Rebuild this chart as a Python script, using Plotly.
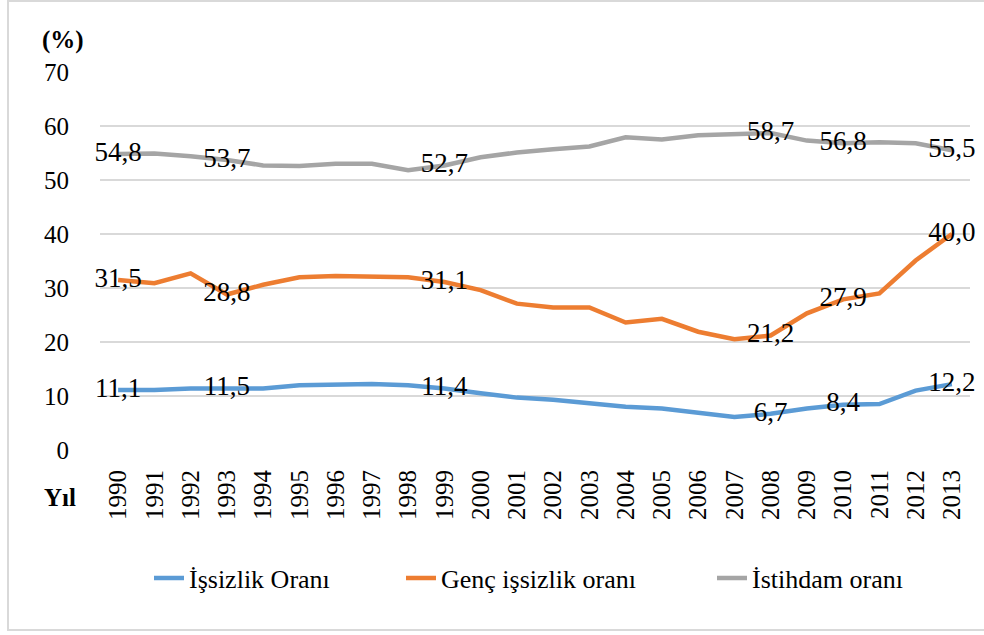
import plotly.graph_objects as go

years = [str(y) for y in range(1990, 2014)]
issizlik = [11.1, 11.1, 11.4, 11.5, 11.4, 12.0, 12.2, 12.2, 12.0, 11.4, 10.5, 9.7,
            9.3, 8.7, 8.0, 7.7, 6.9, 6.1, 6.7, 7.7, 8.4, 8.5, 11.0, 12.2]
genc = [31.5, 30.9, 32.7, 28.8, 30.6, 32.0, 32.2, 32.0, 32.0, 31.1, 29.6, 27.1,
        26.4, 26.4, 23.6, 24.3, 21.9, 20.5, 21.2, 25.3, 27.9, 29.0, 35.1, 40.0]
istihdam = [54.8, 54.9, 54.4, 53.7, 52.7, 52.6, 53.0, 53.0, 51.8, 52.7, 54.2, 55.1,
            55.7, 56.2, 57.9, 57.5, 58.3, 58.6, 58.7, 57.3, 56.8, 57.0, 56.8, 55.5]
label_years = ["1990", "1993", "1999", "2008", "2010", "2013"]
series = [
    ("İşsizlik Oranı", issizlik, "#5B9BD5", "legend", 189),
    ("Genç işsizlik oranı", genc, "#ED7D31", "legend2", 441),
    ("İstihdam oranı", istihdam, "#A5A5A5", "legend3", 752),
]

FONT = "Liberation Serif, Times New Roman, serif"
L, R, T, B = 100, 14, 72, 185
PW, PH = 984 - L - R, 635 - T - B

fig = go.Figure()
legends = {}
for name, vals, color, leg, text_x in series:
    txt = [f"{v:.1f}".replace(".", ",") if y in label_years else "" for y, v in zip(years, vals)]
    fig.add_trace(go.Scatter(
        x=years, y=vals, name=name, mode="lines+text", legend=leg,
        line=dict(color=color, width=4.5), cliponaxis=False,
        text=txt, textposition="middle center",
        textfont=dict(family=FONT, size=27, color="#000000"),
    ))
    legends[leg] = dict(orientation="h", x=(text_x - 40 - L) / PW, xanchor="left",
                        y=(T + PH - 578) / PH, yanchor="middle", bgcolor="rgba(0,0,0,0)",
                        font=dict(family=FONT, size=26, color="#000000"))

fig.update_layout(
    width=984, height=635,
    margin=dict(l=L, r=R, t=T, b=B),
    paper_bgcolor="white", plot_bgcolor="white",
    font=dict(family=FONT, size=24, color="#000000"),
    showlegend=True,
    xaxis=dict(type="category", range=[-0.5, 23.5], autorange=False, tickangle=-90,
               showgrid=False, zeroline=False, showline=False, ticks="", ticklabelstandoff=14,
               tickfont=dict(family=FONT, size=25)),
    yaxis=dict(range=[0, 70], autorange=False, dtick=10, showgrid=True, gridcolor="#D9D9D9",
               gridwidth=2, zeroline=False, showline=False, ticks="", ticklabelstandoff=30,
               tickfont=dict(family=FONT, size=25)),
    shapes=[dict(type="rect", xref="paper", yref="paper",
                 x0=(8 - L) / PW, x1=1.05, y0=(T + PH - 630) / PH, y1=(T + PH - 1) / PH,
                 line=dict(color="#D9D9D9", width=2), fillcolor="rgba(0,0,0,0)", layer="below")],
    annotations=[
        dict(text="<b>(%)</b>", xref="paper", yref="paper", x=(40 - L) / PW, y=(T + PH - 40) / PH,
             xanchor="left", yanchor="middle", showarrow=False, font=dict(family=FONT, size=25)),
        dict(text="<b>Yıl</b>", xref="paper", yref="paper", x=(42 - L) / PW, y=(T + PH - 497) / PH,
             xanchor="left", yanchor="middle", showarrow=False, font=dict(family=FONT, size=25)),
    ],
    **legends,
)

fig.write_html("out.html", config={"displayModeBar": False},
               post_script="document.body.style.margin='0';document.body.style.overflow='hidden';")
